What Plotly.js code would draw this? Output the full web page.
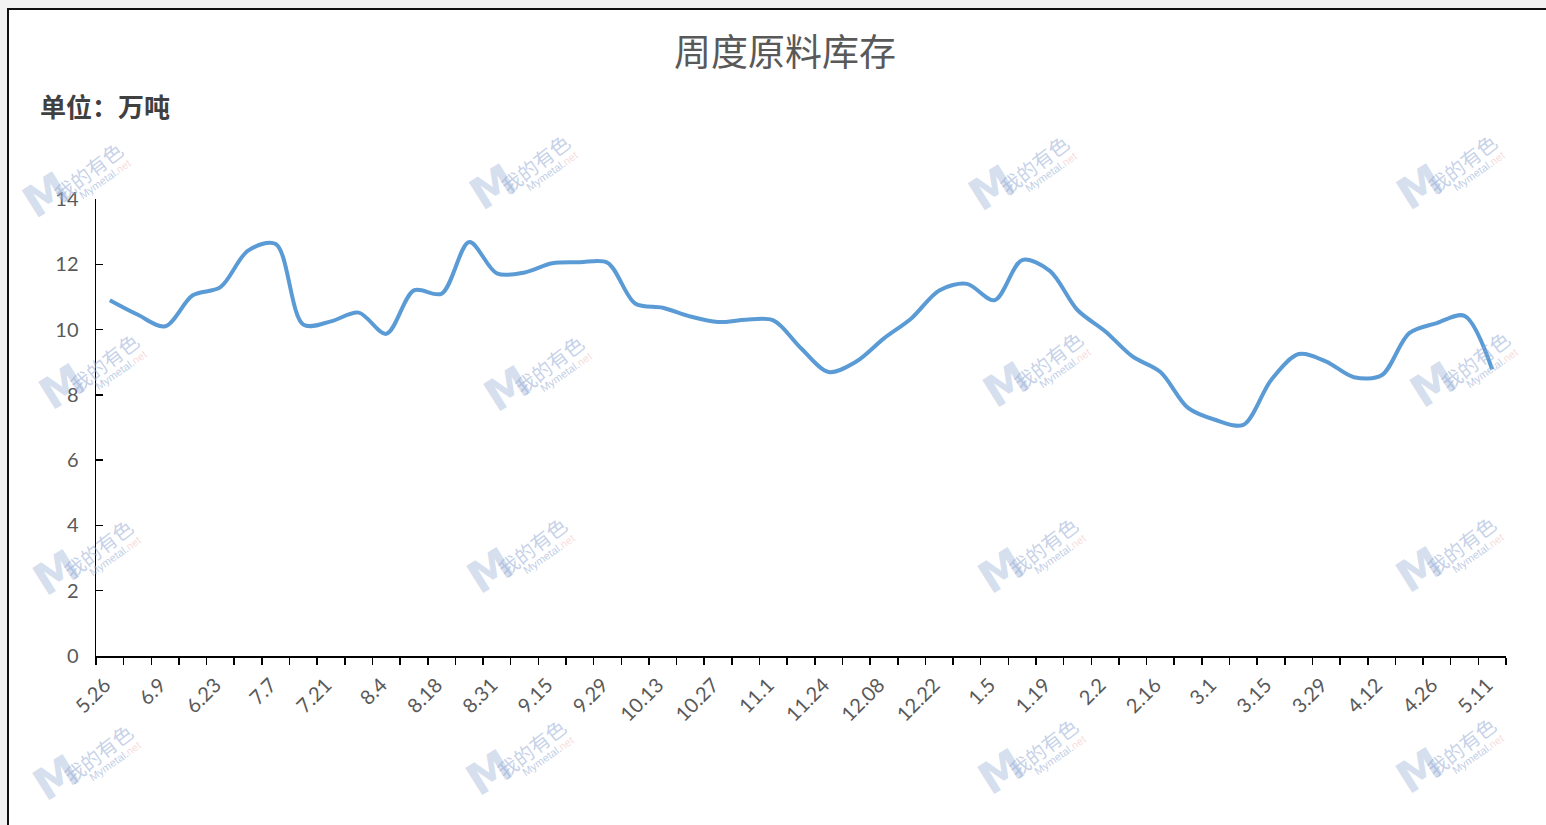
<!DOCTYPE html>
<html>
<head>
<meta charset="utf-8">
<script src="https://cdn.plot.ly/plotly-3.0.1.min.js"></script>
<style>
  html, body { margin: 0; padding: 0; width: 1546px; height: 825px; overflow: hidden; background: #f2f2f2; }
  #frame { position: absolute; left: 7px; top: 8px; width: 1539px; height: 817px; background: #ffffff;
           border-left: 2px solid #111; border-top: 2px solid #111; box-sizing: border-box; }
  #chart { position: absolute; left: 0; top: 0; width: 1546px; height: 825px; }
</style>
</head>
<body>
<div id="frame"></div>
<div id="chart"></div>
<script>
// ---- data ----
const dates = ["5.26","6.2","6.9","6.16","6.23","6.30","7.7","7.14","7.21","7.28",
  "8.4","8.11","8.18","8.25","8.31","9.8","9.15","9.22","9.29","10.6",
  "10.13","10.20","10.27","11.3","11.1","11.17","11.24","12.01","12.08","12.15",
  "12.22","12.29","1.5","1.12","1.19","1.26","2.2","2.9","2.16","2.23",
  "3.1","3.8","3.15","3.22","3.29","4.5","4.12","4.19","4.26","5.4","5.11"];
const inventory = [10.9,10.46,10.1,11.05,11.3,12.42,12.62,10.15,10.25,10.52,
  9.87,11.2,11.1,12.68,11.72,11.75,12.03,12.06,12.05,10.8,
  10.67,10.4,10.23,10.3,10.28,9.43,8.7,9.02,9.73,10.35,
  11.2,11.4,10.9,12.13,11.8,10.6,9.95,9.17,8.7,7.6,
  7.23,7.08,8.45,9.25,9.02,8.54,8.6,9.89,10.2,10.42,8.78];
const labelStep = 2;
const titleText = "周度原料库存";
const unitText = "单位：万吨";

// ---- chart ----
const idx = dates.map((d, i) => i);
const tickIdx = idx.filter(i => i % labelStep === 0);
const tickTxt = tickIdx.map(i => dates[i]);

const W = 1546, H = 825;
const M = {l: 96, r: 40, t: 199, b: 169};
const PW = W - M.l - M.r, PH = H - M.t - M.b;
const px = x => (x - M.l) / PW;
const py = y => (H - M.b - y) / PH;

const annotations = [
  {text: titleText, xref: "paper", yref: "paper", x: px(785), y: py(50), xanchor: "center", yanchor: "middle",
   showarrow: false, font: {family: "Noto Sans CJK SC", size: 37, color: "#595959"}},
  {text: "<b>" + unitText + "</b>", xref: "paper", yref: "paper", x: px(38), y: py(105), xanchor: "left", yanchor: "middle",
   showarrow: false, font: {family: "Noto Sans CJK SC", size: 26, color: "#404040"}}
];

// watermark logos
const wm = [[46,195],[493,187],[992,188],[1420,187],
            [62,386],[507,388],[1006,384],[1433,384],
            [56,572],[490,570],[1001,570],[1419,569],
            [56,777],[489,772],[1001,771],[1419,770]];
wm.forEach(([x, y]) => {
  const base = {xref: "paper", yref: "paper", showarrow: false, xanchor: "center", yanchor: "middle"};
  annotations.push(Object.assign({}, base, {text: "<b>M</b>", x: px(x), y: py(y),
    textangle: -32, font: {family: "DejaVu Sans", size: 44, color: "rgba(160,182,218,0.45)"}}));
  annotations.push(Object.assign({}, base, {text: "我的有色", x: px(x + 42), y: py(y - 24),
    textangle: -38, font: {family: "Noto Sans CJK SC", size: 20, color: "rgba(150,172,212,0.55)"}}));
  annotations.push(Object.assign({}, base, {text: "Mymetal.<span style='color:rgba(230,150,150,0.6)'>net</span>",
    x: px(x + 59), y: py(y - 16),
    textangle: -35, font: {family: "Liberation Sans", size: 11, color: "rgba(150,172,212,0.6)"}}));
});

const trace = {
  x: idx, y: inventory, type: "scatter", mode: "lines",
  line: {color: "#5B9BD5", width: 4, shape: "spline", smoothing: 0.9},
  hoverinfo: "x+y"
};

const layout = {
  width: W, height: H,
  margin: M,
  paper_bgcolor: "rgba(0,0,0,0)", plot_bgcolor: "rgba(0,0,0,0)",
  showlegend: false,
  xaxis: {
    range: [-0.5, dates.length - 0.5], tickmode: "array", tickvals: tickIdx, ticktext: tickTxt,
    tickangle: -45, ticks: "", showgrid: false, zeroline: false,
    showline: true, linecolor: "#000", linewidth: 1.5,
    ticklabelstandoff: 8, ticklabelshift: -5,
    tickfont: {family: "Lato, Noto Sans", size: 20, color: "#595959"},
    minor: {tickmode: "linear", tick0: -0.5, dtick: 1, ticks: "outside", ticklen: 7, tickwidth: 1.5, tickcolor: "#000", showgrid: false}
  },
  yaxis: {
    range: [0, 14], dtick: 2, tick0: 0, ticks: "inside", ticklen: 7, tickwidth: 1.5, tickcolor: "#000",
    showgrid: false, zeroline: false, showline: true, linecolor: "#000", linewidth: 1.5,
    ticklabelstandoff: 12,
    tickfont: {family: "Lato, Noto Sans", size: 20, color: "#595959"}
  },
  annotations: annotations
};

Plotly.newPlot("chart", [trace], layout, {displayModeBar: false, staticPlot: true});
</script>
</body>
</html>
